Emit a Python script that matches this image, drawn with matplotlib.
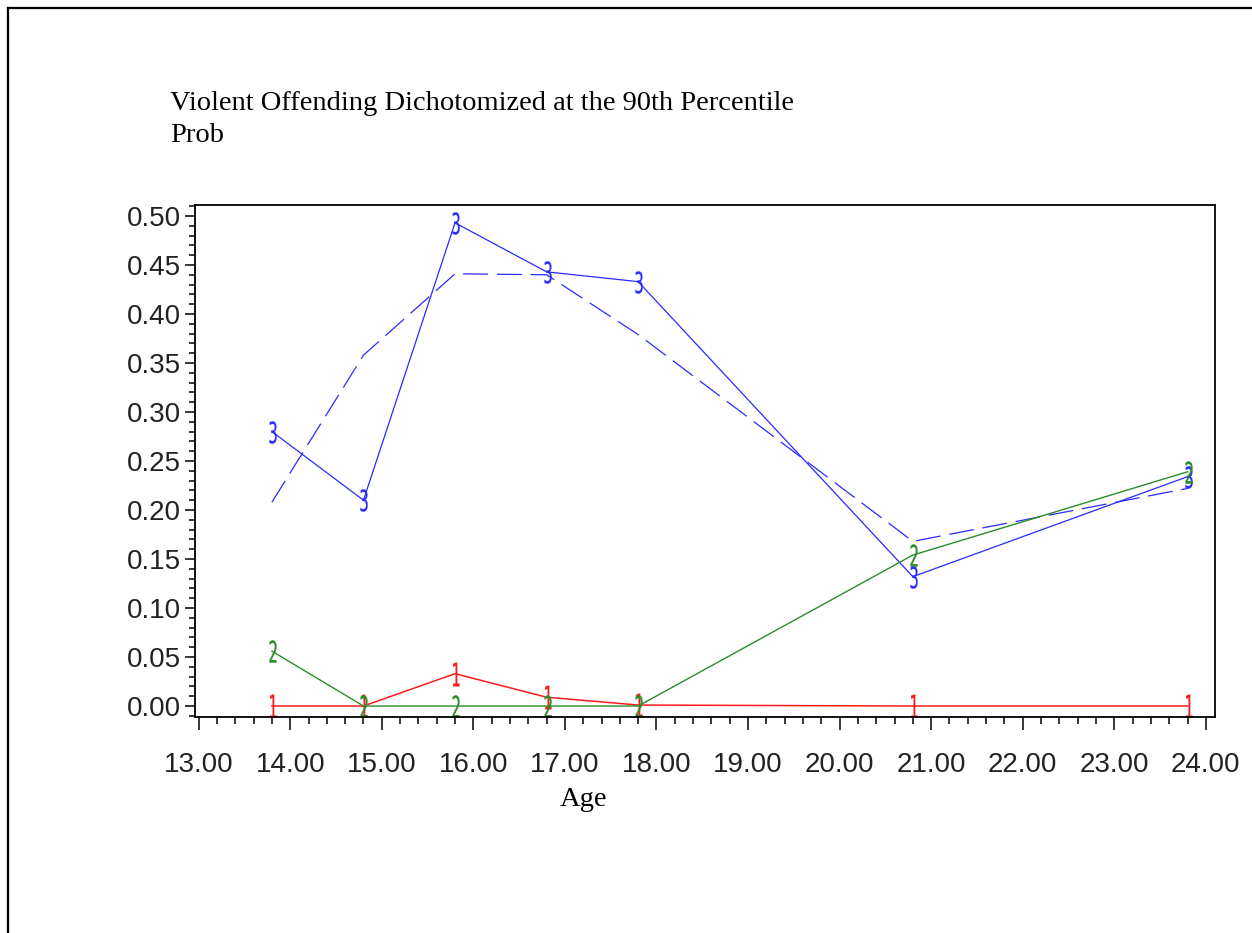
"""
Probabilitas pelanggaran kekerasan (dikotomi persentil ke-90) menurut usia.
Garis solid = observasi per grup, garis putus-putus = prediksi grup 3.
"""

import numpy as np
import matplotlib
matplotlib.use("Agg")
import matplotlib.pyplot as plt
from matplotlib.lines import Line2D
from matplotlib.path import Path
from matplotlib.textpath import TextPath
from matplotlib.font_manager import FontProperties
from matplotlib.ticker import MultipleLocator, FormatStrFormatter

# ---- Data ----
usia = [13.8, 14.8, 15.8, 16.8, 17.8, 20.8, 23.8]

grup3_obs  = [0.280, 0.210, 0.493, 0.443, 0.433, 0.132, 0.234]
grup3_pred = [0.208, 0.358, 0.441, 0.440, 0.379, 0.168, 0.222]
grup2_obs  = [0.056, 0.000, 0.000, 0.000, 0.000, 0.154, 0.239]
grup1_obs  = [0.000, 0.000, 0.033, 0.009, 0.001, 0.000, 0.000]

BIRU  = "#2a2aff"
HIJAU = "#2a8c2a"
MERAH = "#ff1a1a"


def penanda_huruf(ch, sempit=0.5):
    """Membuat marker dari glyph teks, dipersempit secara horizontal."""
    tp = TextPath((0, 0), ch, size=1,
                  prop=FontProperties(family="Liberation Sans Narrow"))
    v = tp.vertices.copy()
    xmin, ymin = v.min(axis=0)
    xmax, ymax = v.max(axis=0)
    v[:, 0] = (v[:, 0] - (xmin + xmax) / 2) * sempit
    v[:, 1] = v[:, 1] - (ymin + ymax) / 2
    return Path(v, tp.codes)


fig = plt.figure(figsize=(12.52, 9.33), dpi=100)
ax = fig.add_axes([195 / 1252, 1 - 717 / 933, 1020 / 1252, 512 / 933])

# Prediksi grup 3 (putus-putus)
ax.plot(usia, grup3_pred, color=BIRU, lw=0.9, dashes=(20, 7))

# Observasi grup 3
ax.plot(usia, grup3_obs, color=BIRU, lw=0.9,
        marker=penanda_huruf("3"), ms=16, mfc=BIRU, mec=BIRU, mew=0.2)

# Observasi grup 1
ax.plot(usia, grup1_obs, color=MERAH, lw=1.1,
        marker=penanda_huruf("1", 0.45), ms=17, mfc=MERAH, mec=MERAH, mew=0.2)

# Observasi grup 2
ax.plot(usia, grup2_obs, color=HIJAU, lw=1.0,
        marker=penanda_huruf("2"), ms=16, mfc=HIJAU, mec=HIJAU, mew=0.2)

ax.set_xlim(12.96, 24.1)
ax.set_ylim(-0.0112, 0.5112)

ax.xaxis.set_major_locator(MultipleLocator(1.0))
ax.xaxis.set_minor_locator(MultipleLocator(0.2))
ax.yaxis.set_major_locator(MultipleLocator(0.05))
ax.yaxis.set_minor_locator(MultipleLocator(0.01))
ax.xaxis.set_major_formatter(FormatStrFormatter("%.2f"))
ax.yaxis.set_major_formatter(FormatStrFormatter("%.2f"))

ax.tick_params(axis="x", which="major", direction="out", length=9, width=1.1,
               pad=16, labelsize=20)
ax.tick_params(axis="x", which="minor", direction="out", length=5, width=1.1)
ax.tick_params(axis="y", which="major", direction="out", length=7, width=1.1,
               pad=3, labelsize=20)
ax.tick_params(axis="y", which="minor", direction="out", length=4, width=1.1)

for lbl in ax.get_xticklabels() + ax.get_yticklabels():
    lbl.set_family(["Liberation Sans", "DejaVu Sans"])
    lbl.set_color("#222222")

for sp in ax.spines.values():
    sp.set_linewidth(1.3)

# Judul dan label sumbu
fig.text(170 / 1252, 1 - 103 / 933,
         "Violent Offending Dichotomized at the 90th Percentile",
         family="Liberation Serif", fontsize=20.5, ha="left", va="center")
fig.text(170 / 1252, 1 - 135 / 933, "Prob",
         family="Liberation Serif", fontsize=20.5, ha="left", va="center")
fig.text(583 / 1252, 1 - 800 / 933, "Age",
         family="Liberation Serif", fontsize=20.5, ha="center", va="center")

# Bingkai halaman (atas dan kiri)
fig.add_artist(Line2D([8 / 1252, 1], [1 - 8 / 933, 1 - 8 / 933],
                      transform=fig.transFigure, color="black", lw=1.6))
fig.add_artist(Line2D([8 / 1252, 8 / 1252], [0, 1 - 8 / 933],
                      transform=fig.transFigure, color="black", lw=1.6))

plt.savefig("out.png", dpi=100)
plt.close()
